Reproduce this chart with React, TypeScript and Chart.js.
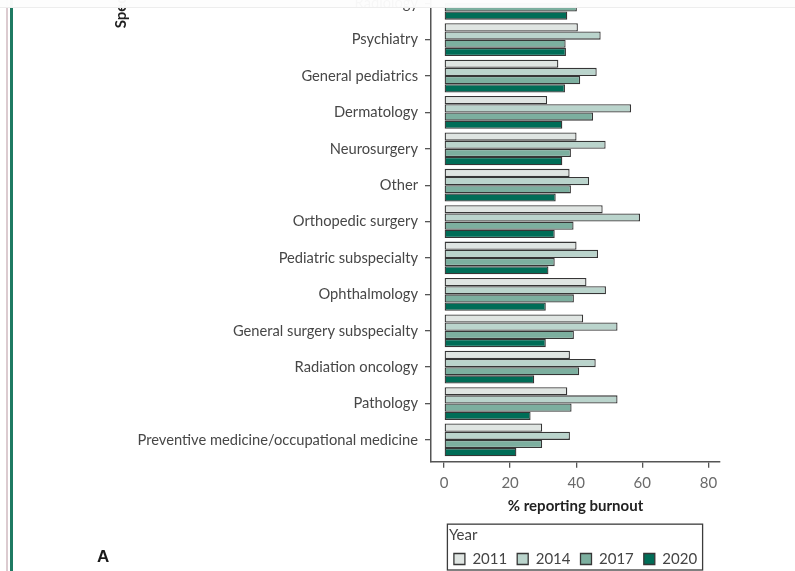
import { useEffect, useRef } from "react";
import { Chart, registerables } from "chart.js";

Chart.register(...registerables);

// Specialties, top to bottom (sorted by 2020 burnout)
const specialties = [
  "Radiology",
  "Psychiatry",
  "General pediatrics",
  "Dermatology",
  "Neurosurgery",
  "Other",
  "Orthopedic surgery",
  "Pediatric subspecialty",
  "Ophthalmology",
  "General surgery subspecialty",
  "Radiation oncology",
  "Pathology",
  "Preventive medicine/occupational medicine",
];

const years = ["2011", "2014", "2017", "2020"];

// % reporting burnout per specialty and survey year
const burnout2011 = [null, 40.5, 34.6, 31.2, 40.1, 38.0, 48.0, 40.1, 43.1, 42.1, 38.1, 37.3, 29.7];
const burnout2014 = [null, 47.4, 46.2, 56.6, 48.9, 43.9, 59.3, 46.6, 49.0, 52.5, 45.9, 52.5, 38.1];
const burnout2017 = [40.2, 36.8, 41.2, 45.1, 38.4, 38.4, 39.2, 33.5, 39.3, 39.3, 40.9, 38.6, 29.7];
const burnout2020 = [37.3, 36.9, 36.6, 35.8, 35.8, 33.8, 33.5, 31.6, 30.8, 30.8, 27.3, 26.2, 21.9];

const xTickValues = [0, 20, 40, 60, 80];

const seriesValues = [burnout2011, burnout2014, burnout2017, burnout2020];
const yearColors = ["#dfe5e2", "#bad4cc", "#7caf9f", "#006d57"];

const FONT = "Lato, 'Noto Sans', sans-serif";

// Frame drawn around the legend items and its "Year" title
const legendFrame = {
  id: "legendFrame",
  afterDraw(chart: any) {
    const legend = chart.legend;
    if (!legend || !legend.legendHitBoxes || !legend.legendHitBoxes.length) return;
    const boxes = legend.legendHitBoxes;
    const first = boxes[0];
    const last = boxes[boxes.length - 1];
    const left = first.left - 6.5;
    const right = last.left + last.width + 5.5;
    const top = legend.top + 2;
    const bottom = first.top + first.height / 2 + 11;
    const ctx = chart.ctx;
    ctx.save();
    ctx.strokeStyle = "#3c3c3c";
    ctx.lineWidth = 1.3;
    ctx.strokeRect(left, top, right - left, bottom - top);
    ctx.restore();
  },
};

// Rotated y-axis title, placed near the top of the panel
const specialtyTitle = {
  id: "specialtyTitle",
  afterDraw(chart: any) {
    const ctx = chart.ctx;
    ctx.save();
    ctx.translate(121, 28);
    ctx.rotate(-Math.PI / 2);
    ctx.font = `bold 15px ${FONT}`;
    ctx.fillStyle = "#1f1f1f";
    ctx.textAlign = "center";
    ctx.textBaseline = "middle";
    ctx.fillText("Specialty", 0, 0);
    ctx.restore();
  },
};

function BurnoutChart() {
  const canvasRef = useRef<HTMLCanvasElement | null>(null);

  useEffect(() => {
    if (!canvasRef.current) return;
    const datasets = years.map((year, d) => ({
      label: year,
      data: specialties
        .map((_, i) => ({ x: seriesValues[d][i], y: i }))
        .filter((p) => p.x !== null),
      backgroundColor: yearColors[d],
      borderColor: "#363636",
      borderWidth: 1.3,
      borderSkipped: false,
      categoryPercentage: 0.9,
      barPercentage: 1,
    }));

    const chart = new Chart(canvasRef.current, {
      type: "bar",
      data: { datasets } as any,
      options: {
        indexAxis: "y",
        animation: false,
        responsive: true,
        maintainAspectRatio: false,
        layout: { padding: { top: 4.55, right: 75, bottom: 13.5, left: 0 } },
        scales: {
          x: {
            type: "linear",
            min: -3.93,
            max: 83.5,
            afterBuildTicks: (scale: any) => {
              scale.ticks = xTickValues.map((v) => ({ value: v }));
            },
            afterFit: (scale: any) => {
              scale.height = 60.4;
            },
            grid: { drawOnChartArea: false, drawTicks: true, tickLength: 6, color: "#555", lineWidth: 1.3 },
            border: { display: true, color: "#555", width: 1.5 },
            ticks: {
              autoSkip: false,
              padding: 6,
              color: "#6a6a6a",
              font: { family: FONT, size: 15 },
            },
            title: {
              display: true,
              text: "% reporting burnout",
              color: "#222",
              font: { family: FONT, size: 15, weight: "bold" },
              padding: { top: 0, bottom: 7 },
            },
          },
          y: {
            type: "linear",
            reverse: true,
            offset: false,
            min: -0.48,
            max: 12.6,
            afterBuildTicks: (scale: any) => {
              scale.ticks = specialties.map((_, i) => ({ value: i }));
            },
            afterFit: (scale: any) => {
              scale.width = 431;
            },
            grid: { offset: false, drawOnChartArea: false, drawTicks: true, tickLength: 6, color: "#555", lineWidth: 1.3 },
            border: { display: true, color: "#555", width: 1.5 },
            ticks: {
              autoSkip: false,
              padding: 7,
              color: "#474747",
              font: { family: FONT, size: 14.7 },
              callback: (value: any) => specialties[Number(value)] ?? "",
            },
          },
        },
        plugins: {
          tooltip: { enabled: false },
          legend: {
            position: "bottom",
            fullSize: false,
            align: "center",
            title: {
              display: true,
              text: "Year",
              position: "start",
              color: "#444",
              font: { family: FONT, size: 15, lineHeight: 0.89 },
              padding: { top: 6, bottom: 0 },
            },
            labels: {
              boxWidth: 11,
              boxHeight: 11,
              padding: 10,
              color: "#444",
              font: { family: FONT, size: 15 },
            },
          },
        },
      } as any,
      plugins: [legendFrame, specialtyTitle],
    });

    return () => chart.destroy();
  }, []);

  return (
    <div style={{ position: "absolute", left: 0, top: -30, width: 795, height: 620 }}>
      <canvas ref={canvasRef} />
    </div>
  );
}

export default function App() {
  return (
    <div
      style={{
        position: "fixed",
        left: 0,
        top: 0,
        width: 795,
        height: 571,
        overflow: "hidden",
        background: "#ffffff",
      }}
    >
      <div style={{ position: "absolute", left: 6, top: 0, width: 1.5, height: 571, background: "#dccbd0" }} />
      <div style={{ position: "absolute", left: 10, top: 0, width: 3, height: 571, background: "#1f7a62" }} />
      <BurnoutChart />
      <div
        style={{
          position: "absolute",
          left: 97,
          top: 547,
          fontFamily: "'Liberation Sans', Arial, sans-serif",
          fontWeight: "bold",
          fontSize: 17,
          color: "#1a1a1a",
          lineHeight: "20px",
        }}
      >
        A
      </div>
      <div
        style={{
          position: "absolute",
          left: 0,
          top: 0,
          width: 795,
          height: 7,
          background: "rgba(253,253,253,0.97)",
          borderBottom: "1px solid #ededed",
        }}
      />
    </div>
  );
}
